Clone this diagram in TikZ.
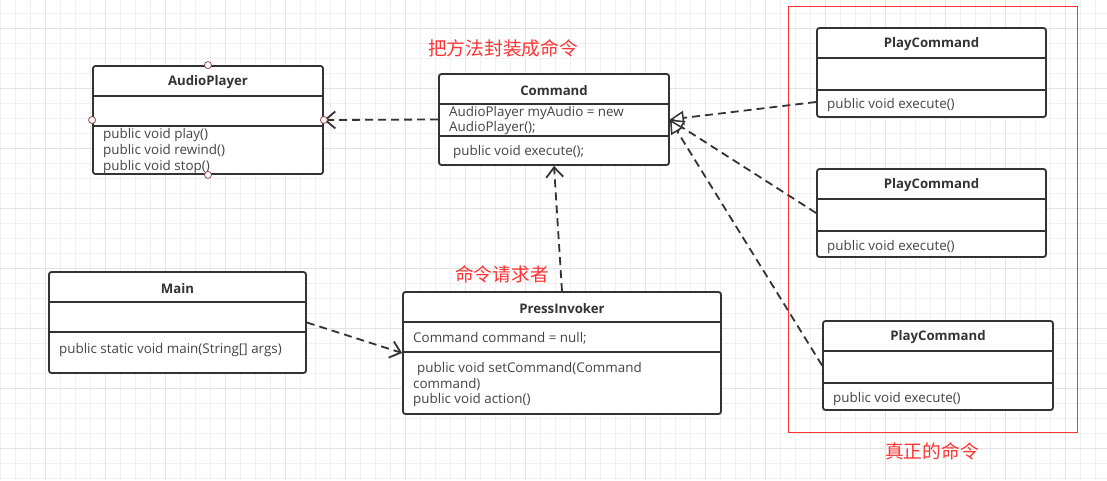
\documentclass[tikz,border=0pt]{standalone}
\usepackage{fontspec}
\setmainfont{Open Sans}
\newfontfamily\cjk{Noto Sans CJK SC}
\usetikzlibrary{arrows.meta}
\definecolor{ink}{HTML}{333333}
\definecolor{txt}{HTML}{444444}
\definecolor{redc}{HTML}{FF3333}
\definecolor{gridmin}{HTML}{F0F0F0}
\definecolor{gridmaj}{HTML}{E3E3E3}
\definecolor{handle}{HTML}{A04848}
\begin{document}
\begin{tikzpicture}[x=1pt,y=-1pt,
  cls/.style={draw=ink, line width=1.8pt, rounded corners=2.5pt, fill=white, inner sep=0pt},
  divl/.style={draw=ink, line width=1.8pt},
  title/.style={font=\bfseries\fontsize{13.2}{15}\selectfont, text=ink, inner sep=0pt, yshift=-1.5pt},
  member/.style={font=\fontsize{13.4}{15}\selectfont, text=txt, anchor=west, inner sep=0pt, yshift=-1.5pt},
  note/.style={font=\cjk\fontsize{18.7}{21}\selectfont, text=redc, inner sep=0pt},
  dep/.style={draw=ink, line width=1.8pt, dash pattern=on 8pt off 5pt,
    -{Straight Barb[length=10pt,width=17pt,line width=1.8pt]}},
  real/.style={draw=ink, line width=1.8pt, dash pattern=on 8pt off 5pt,
    -{Triangle[open, length=14pt, width=14pt, line width=1.5pt, fill=white]}},
  hnd/.style={draw=handle, fill=white, line width=0.8pt, circle, minimum size=7pt, inner sep=0pt}
]
\useasboundingbox (0,0) rectangle (1107,480);
\fill[white] (0,0) rectangle (1107,480);
% grid
\foreach \x in {0,15,...,1106} \draw[gridmin, line width=0.8pt] (\x,0) -- (\x,480);
\foreach \y in {13,28,...,479} \draw[gridmin, line width=0.8pt] (0,\y) -- (1107,\y);
\foreach \x in {45,105,...,1106} \draw[gridmaj, line width=0.8pt] (\x,0) -- (\x,480);
\foreach \y in {28,88,...,479} \draw[gridmaj, line width=0.8pt] (0,\y) -- (1107,\y);

% red frame
\node[draw=redc, line width=0.9pt, minimum width=289pt, minimum height=426pt, inner sep=0pt] (frame) at (932.5,219) {};
\node[note] (lblreal) at (932,451) {真正的命令};
\node[note] (lblcmd) at (503,48) {把方法封装成命令};
\node[note] (lblreq) at (502,274) {命令请求者};

% AudioPlayer
\node[cls, minimum width=230pt, minimum height=108pt] (ap) at (208,120) {};
\node[title] (apt) at (208,81) {AudioPlayer};
\draw[divl] (ap.west |- 0,96) -- (ap.east |- 0,96);
\draw[divl] (ap.west |- 0,126) -- (ap.east |- 0,126);
\node[member] (ap1) at (103,134) {public void play()};
\node[member] (ap2) at (103,150) {public void rewind()};
\node[member] (ap3) at (103,166) {public void stop()};

% Command
\node[cls, minimum width=230pt, minimum height=91pt] (cmd) at (554,119.5) {};
\node[title] (cmdt) at (554,89) {Command};
\draw[divl] (cmd.west |- 0,104) -- (cmd.east |- 0,104);
\draw[divl] (cmd.west |- 0,136) -- (cmd.east |- 0,136);
\node[member] (cmd1) at (449,112) {AudioPlayer myAudio = new};
\node[member] (cmd2) at (449,127) {AudioPlayer();};
\node[member] (cmd3) at (453,151) {public void execute();};

% PlayCommand 1
\node[cls, minimum width=229pt, minimum height=89pt] (pc1) at (931.5,72.5) {};
\node[title] (pc1t) at (931.5,43) {PlayCommand};
\draw[divl] (pc1.west |- 0,58) -- (pc1.east |- 0,58);
\draw[divl] (pc1.west |- 0,90) -- (pc1.east |- 0,90);
\node[member] (pc1m) at (827,104) {public void execute()};

% PlayCommand 2
\node[cls, minimum width=229pt, minimum height=88pt] (pc2) at (931.5,213) {};
\node[title] (pc2t) at (931.5,184) {PlayCommand};
\draw[divl] (pc2.west |- 0,199) -- (pc2.east |- 0,199);
\draw[divl] (pc2.west |- 0,231) -- (pc2.east |- 0,231);
\node[member] (pc2m) at (827,246) {public void execute()};

% PlayCommand 3
\node[cls, minimum width=230pt, minimum height=89pt] (pc3) at (938,365.5) {};
\node[title] (pc3t) at (938,336) {PlayCommand};
\draw[divl] (pc3.west |- 0,351) -- (pc3.east |- 0,351);
\draw[divl] (pc3.west |- 0,383) -- (pc3.east |- 0,383);
\node[member] (pc3m) at (833,398) {public void execute()};

% Main
\node[cls, minimum width=257pt, minimum height=101pt] (main) at (177.5,322.5) {};
\node[title] (maint) at (177.5,287) {Main};
\draw[divl] (main.west |- 0,302) -- (main.east |- 0,302);
\draw[divl] (main.west |- 0,332) -- (main.east |- 0,332);
\node[member] (mainm) at (59,349) {public static void main(String[] args)};

% PressInvoker
\node[cls, minimum width=318pt, minimum height=122pt] (pi) at (562,353) {};
\node[title] (pit) at (562,307) {PressInvoker};
\draw[divl] (pi.west |- 0,322) -- (pi.east |- 0,322);
\draw[divl] (pi.west |- 0,352) -- (pi.east |- 0,352);
\node[member] (pi1) at (413,337) {Command command = null;};
\node[member] (pi2) at (417,368) {public void setCommand(Command};
\node[member] (pi3) at (413,383) {command)};
\node[member] (pi4) at (413,399) {public void action()};

% connectors
\draw[dep] (cmd.west) -- (ap.east);
\draw[dep] (pi.north) -- (cmd.south);
\draw[dep] (main.east) -- (pi.west);
\path (pc1.west) ++(0,29.5) coordinate (pc1a);
\draw[real] (pc1a) -- (cmd.east);
\draw[real] (pc2.west) -- (cmd.east);
\draw[real] (pc3.west) -- (cmd.east);

% selection handles
\node[hnd] (h1) at (ap.north) {};
\node[hnd] (h2) at (ap.west |- 0,120) {};
\node[hnd] (h3) at (ap.east |- 0,120) {};
\node[hnd] (h4) at (ap.south) {};
\end{tikzpicture}
\end{document}
